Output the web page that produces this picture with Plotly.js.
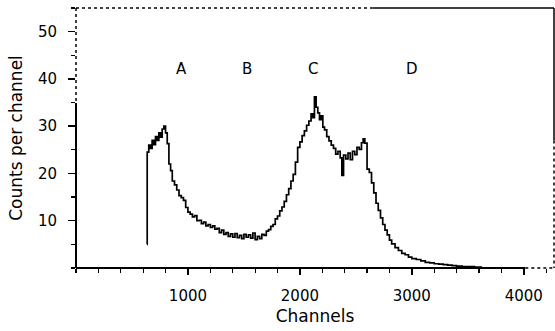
<!DOCTYPE html>
<html>
<head>
<meta charset="utf-8">
<script src="https://cdn.plot.ly/plotly-3.0.1.min.js"></script>
<style>html,body{margin:0;padding:0;background:#fff;}#chart{width:555px;height:331px;}</style>
</head>
<body>
<div id="chart"></div>
<script>
// Spectrum: channel vs counts per channel
var channels = [634, 636, 650, 665, 680, 695, 710, 725, 740, 755, 770, 785, 800, 815, 830, 845, 860, 880, 900, 920, 940, 960, 980, 1000, 1020, 1040, 1060, 1080, 1100, 1120, 1140, 1160, 1180, 1200, 1220, 1240, 1260, 1280, 1300, 1320, 1340, 1360, 1380, 1400, 1420, 1440, 1460, 1480, 1500, 1520, 1540, 1560, 1580, 1600, 1620, 1640, 1660, 1680, 1700, 1720, 1740, 1760, 1780, 1800, 1820, 1840, 1860, 1880, 1900, 1920, 1940, 1960, 1980, 2000, 2020, 2040, 2060, 2080, 2100, 2115, 2130, 2145, 2160, 2175, 2190, 2205, 2220, 2240, 2260, 2280, 2300, 2320, 2340, 2360, 2375, 2390, 2410, 2430, 2450, 2470, 2490, 2510, 2530, 2550, 2565, 2580, 2600, 2620, 2640, 2660, 2680, 2700, 2720, 2740, 2760, 2780, 2800, 2820, 2850, 2880, 2910, 2940, 2970, 3000, 3040, 3080, 3120, 3160, 3200, 3240, 3280, 3320, 3360, 3400, 3450, 3500, 3560, 3620];
var counts   = [5.0, 24.5, 26.0, 25.3, 27.0, 26.1, 27.8, 27.0, 28.6, 27.7, 29.4, 30.0, 28.6, 26.3, 22.0, 20.6, 18.4, 17.6, 16.5, 15.3, 14.9, 14.3, 12.8, 11.8, 11.4, 10.8, 11.1, 10.0, 10.1, 9.4, 9.7, 8.9, 9.2, 8.6, 8.9, 8.2, 8.4, 7.5, 8.0, 7.1, 7.5, 6.7, 7.2, 6.5, 7.3, 6.4, 6.9, 6.2, 7.1, 6.5, 7.0, 6.3, 7.4, 6.0, 6.7, 6.2, 7.1, 6.9, 7.8, 8.1, 8.8, 9.2, 10.4, 11.0, 12.1, 12.9, 14.1, 15.5, 16.8, 18.4, 19.8, 22.4, 25.5, 26.7, 28.0, 29.0, 30.2, 31.1, 32.6, 31.8, 36.2, 34.0, 32.8, 31.4, 32.2, 29.8, 29.2, 27.8, 26.9, 26.0, 25.3, 24.1, 24.7, 23.3, 19.6, 23.9, 23.1, 24.3, 22.9, 24.7, 24.0, 25.5, 25.1, 26.5, 27.3, 26.4, 20.9, 20.2, 18.0, 15.9, 13.7, 12.2, 10.6, 9.2, 8.0, 7.0, 5.9, 5.1, 4.3, 3.7, 3.1, 2.8, 2.3, 2.0, 1.8, 1.5, 1.2, 1.1, 0.9, 0.8, 0.7, 0.6, 0.5, 0.4, 0.3, 0.3, 0.2, 0.1, 0.0];

var peakLabels = ['A', 'B', 'C', 'D'];
var peakX = [940, 1530, 2120, 3000];
var peakY = [42, 42, 42, 42];

var xTickVals = [1000, 2000, 3000, 4000];
var xTickText = ['1000', '2000', '3000', '4000'];
var yTickVals = [10, 20, 30, 40, 50];
var yTickText = ['10', '20', '30', '40', '50'];

var font = 'DejaVu Sans, Arial, sans-serif';

var trace = {
  x: channels, y: counts, type: 'scatter', mode: 'lines',
  line: {color: '#000', width: 1.7, shape: 'hv'},
  hoverinfo: 'skip'
};

var annotations = peakLabels.map(function(t, i) {
  return {x: peakX[i], y: peakY[i], xref: 'x', yref: 'y', text: t, showarrow: false,
          font: {family: font, size: 15, color: '#000'}};
});

var lineStyle = {color: '#000', width: 1.5};
var dotStyle = {color: '#000', width: 1.5, dash: 'dot'};
var shapes = [
  // top border: dotted then solid
  {type: 'line', xref: 'paper', yref: 'paper', x0: 0, x1: 0.62, y0: 1, y1: 1, line: dotStyle},
  {type: 'line', xref: 'paper', yref: 'paper', x0: 0.62, x1: 1, y0: 1, y1: 1, line: lineStyle},
  // right border: solid then dotted
  {type: 'line', xref: 'paper', yref: 'paper', x0: 1, x1: 1, y0: 1, y1: 0.49, line: lineStyle},
  {type: 'line', xref: 'paper', yref: 'paper', x0: 1, x1: 1, y0: 0.49, y1: 0, line: dotStyle},
  // left axis: dotted top, solid below
  {type: 'line', xref: 'paper', yref: 'paper', x0: 0, x1: 0, y0: 1, y1: 0.635, line: dotStyle},
  {type: 'line', xref: 'paper', yref: 'paper', x0: 0, x1: 0, y0: 0.635, y1: 0, line: {color: '#000', width: 2}},
  // bottom axis
  {type: 'line', xref: 'paper', yref: 'paper', x0: 0, x1: 0.94, y0: 0, y1: 0, line: {color: '#000', width: 2}},
  {type: 'line', xref: 'paper', yref: 'paper', x0: 0.94, x1: 1, y0: 0, y1: 0, line: dotStyle}
];

var layout = {
  width: 555, height: 331,
  margin: {l: 76, r: 1, t: 8, b: 63},
  paper_bgcolor: '#fff', plot_bgcolor: '#fff',
  showlegend: false,
  font: {family: font, size: 15, color: '#000'},
  xaxis: {
    range: [0, 4270], showgrid: false, zeroline: false, showline: false,
    tickmode: 'array', tickvals: xTickVals, ticktext: xTickText,
    ticks: 'outside', ticklen: 6, tickwidth: 1.5, tickcolor: '#000',
    minor: {dtick: 200, ticks: 'outside', ticklen: 4, tickwidth: 1.2, tickcolor: '#000', showgrid: false},
    ticklabelstandoff: 8,
    tickfont: {family: font, size: 15, color: '#000'},
    title: {text: 'Channels', font: {family: font, size: 17, color: '#000'}, standoff: 6}
  },
  yaxis: {
    range: [0, 55], showgrid: false, zeroline: false, showline: false,
    tickmode: 'array', tickvals: yTickVals, ticktext: yTickText,
    ticks: 'outside', ticklen: 7, tickwidth: 1.5, tickcolor: '#000',
    minor: {dtick: 5, ticks: 'outside', ticklen: 4, tickwidth: 1.2, tickcolor: '#000', showgrid: false},
    ticklabelstandoff: 8,
    tickfont: {family: font, size: 15, color: '#000'},
    title: {text: 'Counts per channel', font: {family: font, size: 17, color: '#000'}, standoff: 10}
  },
  annotations: annotations,
  shapes: shapes
};

Plotly.newPlot('chart', [trace], layout, {staticPlot: true, displayModeBar: false});
</script>
</body>
</html>
